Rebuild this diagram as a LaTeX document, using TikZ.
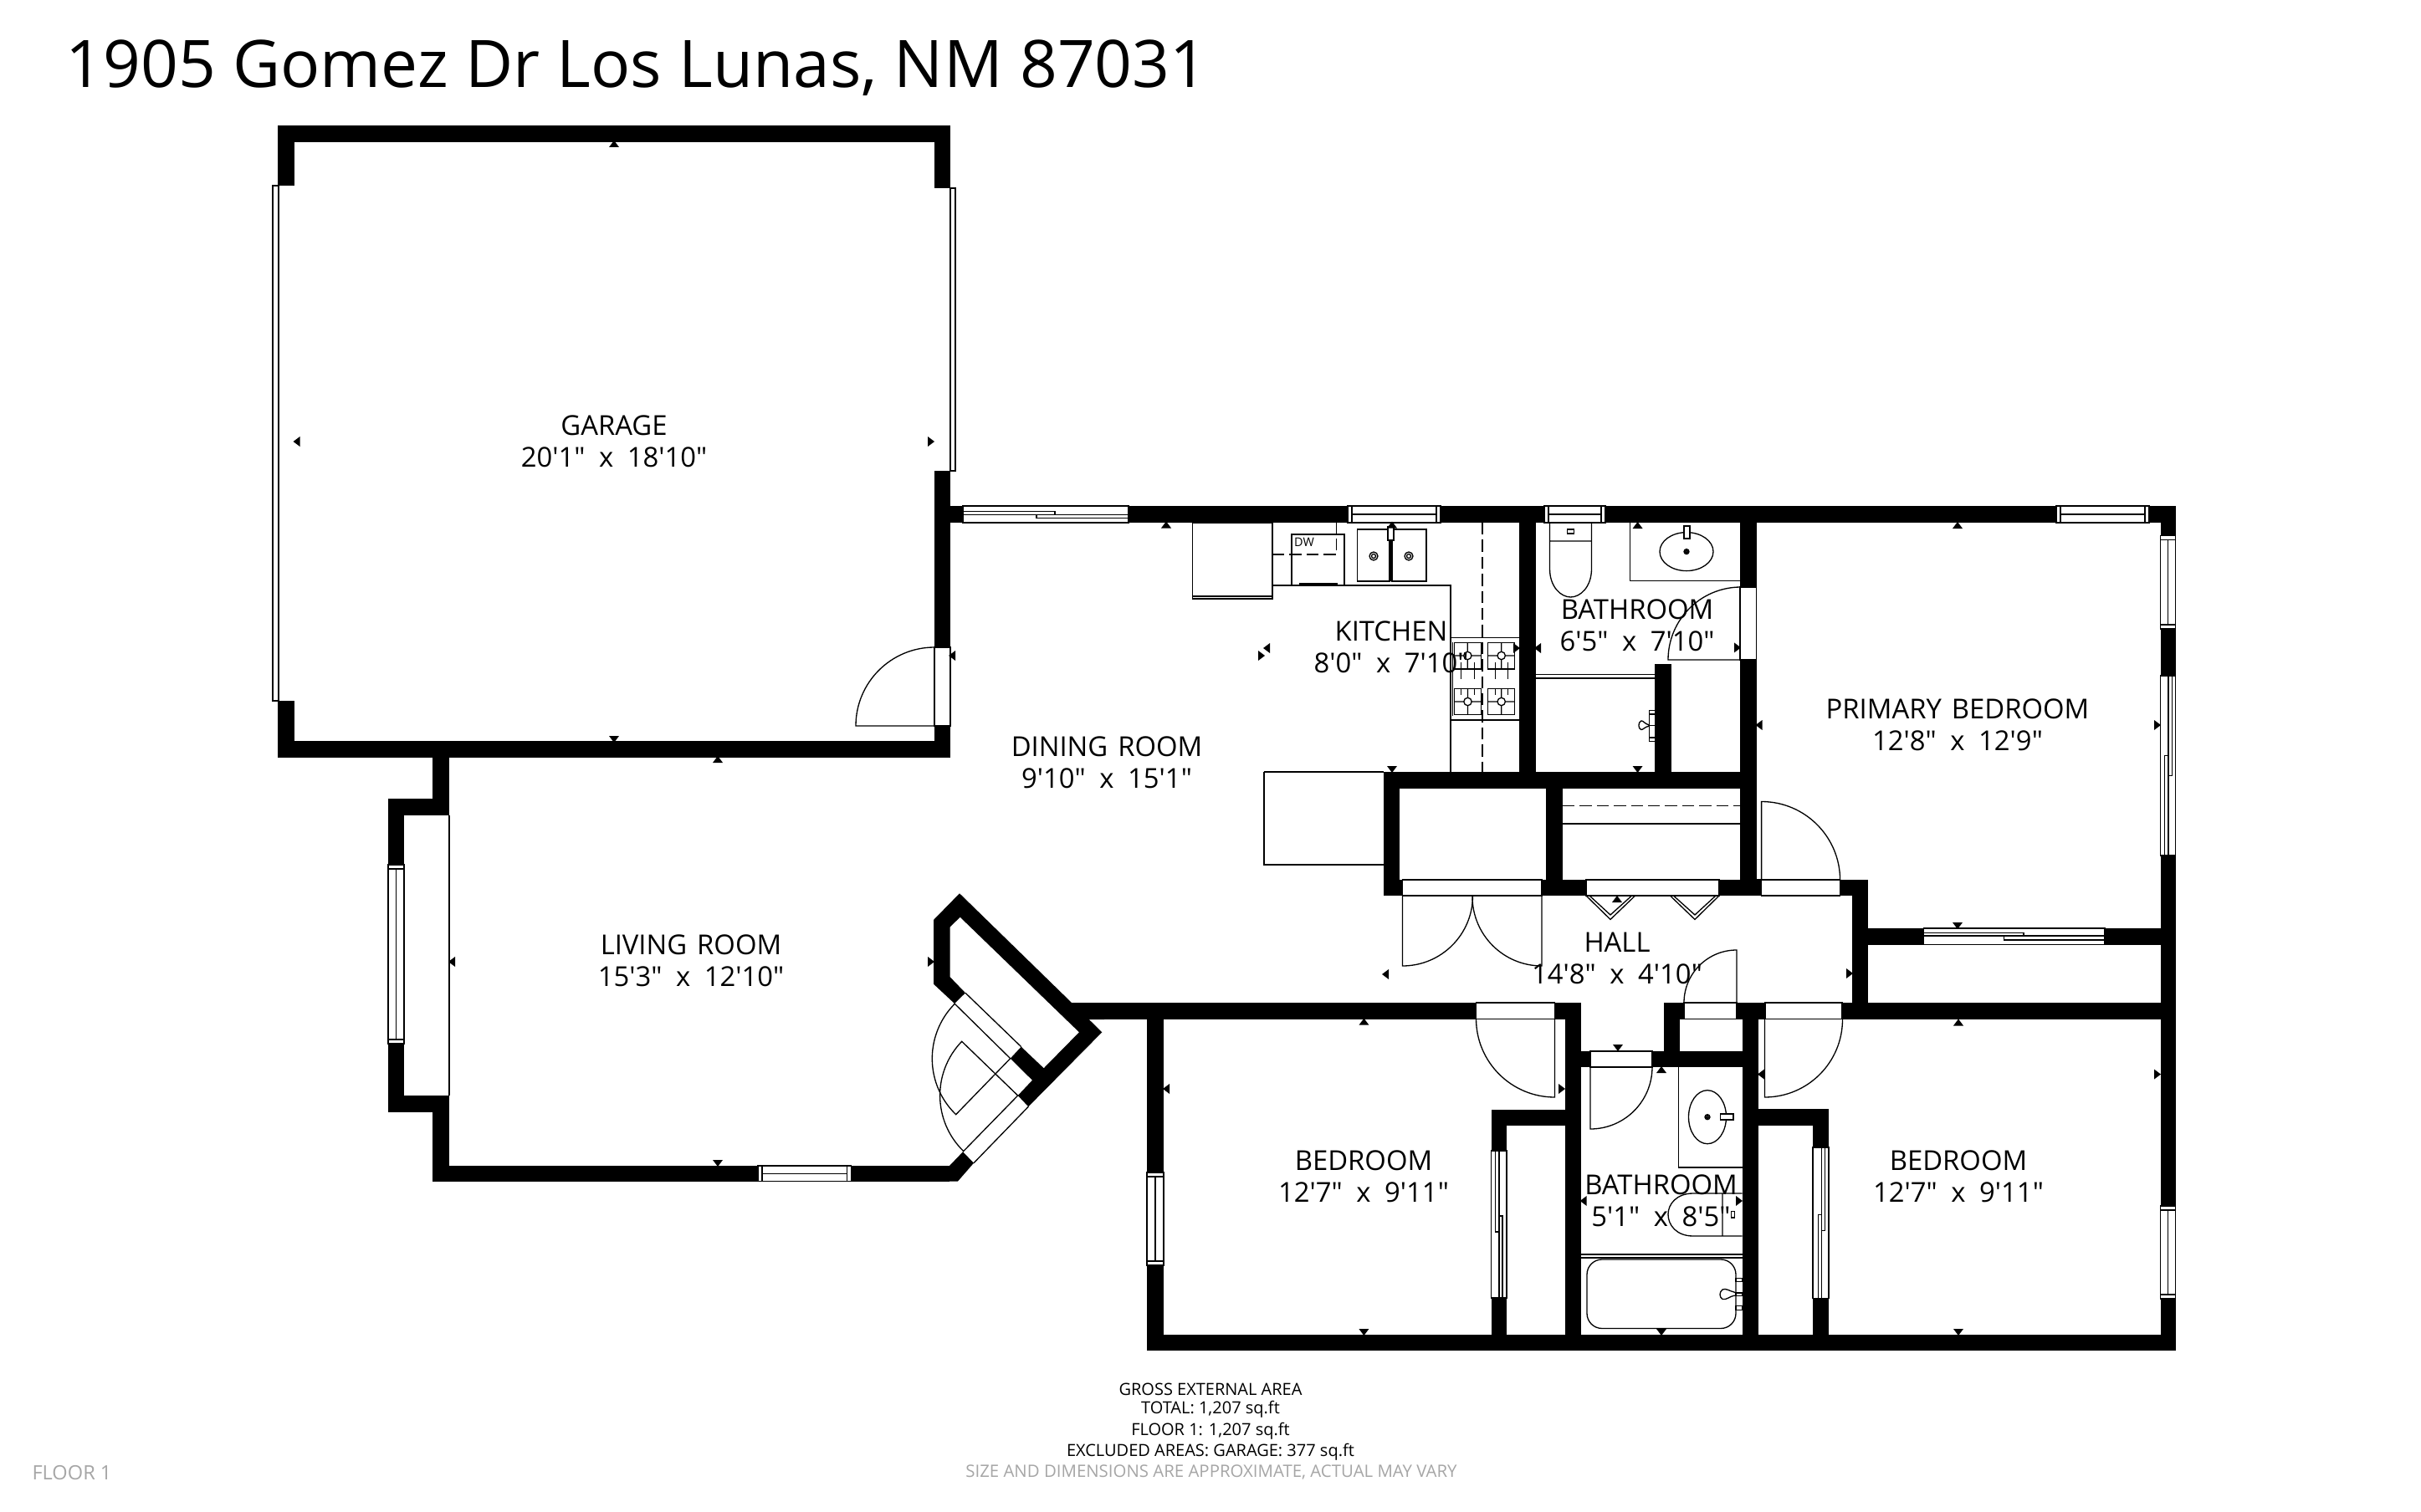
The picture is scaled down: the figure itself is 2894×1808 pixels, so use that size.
\documentclass[tikz,border=0pt]{standalone}
\usepackage{fontspec}
\newfontfamily\plainfont{Open Sans}
\newcommand{\roomfont}{\plainfont\fontsize{8.2}{9.5}\selectfont\spaceskip=3pt\relax}
\newcommand{\dimx}{\hspace{4.15pt}x\hspace{4.15pt}}
\tikzset{
	wall/.style={fill=black},
	thinline/.style={line width=.33pt},
	dashline/.style={line width=.3pt, dash pattern=on 3.6pt off 1.5pt},
	gap/.style={line width=.33pt, fill=white},
	roomlabel/.style={align=center, inner sep=0pt, font=\roomfont},
	footlabel/.style={inner sep=0pt, font=\plainfont\fontsize{5}{6}\selectfont},
	dimmark/.pic={\fill (-6,4) -- (0,-4) -- (6,4) -- cycle;}
}
\newcommand{\hwin}[4]{\draw[gap] (#1,#3) rectangle (#2,#4);
	\draw[thinline] ({#1+5},#3) -- ({#1+5},#4) ({#2-5},#3) -- ({#2-5},#4) ({#1+5},{(#3+#4)/2}) -- ({#2-5},{(#3+#4)/2});}
\newcommand{\vwin}[4]{\draw[gap] (#1,#3) rectangle (#2,#4);
	\draw[thinline] (#1,{#3+5}) -- (#2,{#3+5}) (#1,{#4-5}) -- (#2,{#4-5}) ({(#1+#2)/2},{#3+5}) -- ({(#1+#2)/2},{#4-5});}
\newcommand{\burner}[2]{\draw[thinline] (#1,#2) circle (4.7) ({#1-16},#2) -- ({#1-4.7},#2) ({#1+4.7},#2) -- ({#1+16},#2) (#1,{#2-16}) -- (#1,{#2-4.7}) (#1,{#2+4.7}) -- (#1,{#2+15.5});}
\begin{document}
\begin{tikzpicture}[x=.25pt, y=-.25pt]
	\path[use as bounding box, fill=white] (0,0) rectangle (2894,1808);

	\fill[wall] (332,150) rectangle (1136,170);
	\fill[wall] (332,150) rectangle (352,222);
	\fill[wall] (332,838) rectangle (352,906);
	\fill[wall] (1117,150) rectangle (1136,225);
	\fill[wall] (1117,563) rectangle (1136,906);
	\fill[wall] (332,886) rectangle (1136,906);
	\fill[wall] (1117,605) rectangle (1151,625);

	\fill[wall] (517,906) rectangle (537,975);
	\fill[wall] (464,955) rectangle (537,975);
	\fill[wall] (464,955) rectangle (483,1330);
	\fill[wall] (464,1310) rectangle (537,1330);
	\fill[wall] (517,1310) rectangle (537,1412.5);
	\fill[wall] (517,1394) rectangle (1135,1412.5);
	\fill[wall] (1130,1394) -- (1135,1394) -- (1151,1377.3) -- (1164,1390.7) -- (1145,1412.5) -- (1130,1412.5) -- cycle;
	\fill[wall] (1147,1068.3) -- (1116,1100) -- (1116,1176.7) -- (1141,1200) -- (1154,1187.3) -- (1135.7,1168.3) -- (1135.7,1108.3) -- (1147.7,1096.7) -- (1290,1234.3) -- (1247.7,1277.3) -- (1220.7,1251.7) -- (1207.7,1265.7) -- (1234,1291.7) -- (1216.7,1310) -- (1229.3,1323.3) -- (1317.3,1234.3) -- (1301.7,1219) -- (1320,1219) -- (1320,1199) -- (1281,1199) -- cycle;

	\fill[wall] (1151,605) rectangle (2601,625);
	\fill[wall] (2582.5,605) rectangle (2601,1615);
	\fill[wall] (1371,1596) rectangle (2601,1615);
	\fill[wall] (1371,1199) rectangle (1391,1615);
	\fill[wall] (1281,1199) rectangle (1889.6,1218.6);
	\fill[wall] (1989,1199) rectangle (2583,1218.6);
	\fill[wall] (2214,1052) rectangle (2232.6,1199);
	\fill[wall] (2199.5,1052) rectangle (2232.6,1071);
	\fill[wall] (2232.6,1110) rectangle (2583,1129.6);
	\fill[wall] (1816,625) rectangle (1836,923);
	\fill[wall] (1654,923) rectangle (2099.5,943);
	\fill[wall] (1654,923) rectangle (1672.5,1071);
	\fill[wall] (1848,943) rectangle (1868,1071);
	\fill[wall] (1654,1052) rectangle (2105.6,1071);
	\fill[wall] (2080,625) rectangle (2099.5,1071);
	\fill[wall] (1978,794) rectangle (1998,923);
	\fill[wall] (1870.7,1218) rectangle (1889.6,1596);
	\fill[wall] (1782.5,1327) rectangle (1870.7,1346);
	\fill[wall] (1782.5,1327) rectangle (1801,1596);
	\fill[wall] (1989,1218) rectangle (2008,1257);
	\fill[wall] (1889.6,1257) rectangle (2082.5,1276);
	\fill[wall] (2082.5,1218) rectangle (2101.5,1596);
	\fill[wall] (2101.5,1326) rectangle (2186,1346);
	\fill[wall] (2167,1326) rectangle (2186,1596);

	\draw[gap] (1117,774) rectangle (1136,868);
	\draw[gap] (326,222) rectangle (333,838);
	\draw[gap] (1136,225) rectangle (1142,563);
	\draw[thinline] (537,975) -- (537,1310);
	\draw[gap] (1676.5,1052) rectangle (1843,1071);
	\draw[gap] (1896,1052) rectangle (2055,1071);
	\draw[gap] (2105.6,1052) rectangle (2199.5,1071);
	\draw[gap] (2080,702) rectangle (2099.5,789);
	\draw[gap] (1764.6,1199) rectangle (1858.5,1218.6);
	\draw[gap] (2013,1199) rectangle (2076,1218.6);
	\draw[gap] (2110,1199) rectangle (2202,1218.6);
	\draw[gap] (1901,1257) rectangle (1975,1276);

	\draw[gap] (1151,605) rectangle (1349,625);
	\draw[thinline] (1151,611.4) rectangle (1261,615.4) (1239,615.4) rectangle (1349,619.3);
	\hwin{1611}{1722}{605}{625}
	\hwin{1846}{1919}{605}{625}
	\hwin{2458}{2569}{605}{625}
	\vwin{2582.5}{2600.5}{640.5}{752}
	\draw[gap] (2582.5,808) rectangle (2600.5,1023);
	\draw[thinline] (2587.4,903.4) rectangle (2592,1023) (2592,808) rectangle (2596.5,927.5);
	\draw[gap] (2299.5,1110) rectangle (2516,1129.6);
	\draw[thinline] (2299.5,1115.4) rectangle (2419,1119) (2395.4,1119) rectangle (2516,1124);
	\vwin{2582.5}{2600.5}{1442}{1553}
	\vwin{464}{483}{1034}{1248}
	\hwin{906}{1017.6}{1394}{1412.5}
	\vwin{1371}{1391}{1402}{1513}
	\draw[gap] (1782.5,1376) rectangle (1801,1552);
	\draw[thinline] (1787.5,1376) rectangle (1792,1473) (1792,1454) rectangle (1796,1552);
	\draw[gap] (2167,1372) rectangle (2186,1552.5);
	\draw[thinline] (2173.3,1452.5) rectangle (2177.7,1552.5) (2177.7,1372) rectangle (2181.6,1471.5);

	\draw[thinline] (1141,1200) -- (1207.7,1265.7) (1154,1187.3) -- (1220.7,1251.7);
	\draw[thinline] (1216.7,1310) -- (1151,1377.3) (1229.3,1323.3) -- (1164,1390.7);
	\draw[thinline] (1207.7,1265.7) -- (1142.7,1332.7) arc[start angle=134, end angle=224.6, radius=93];
	\draw[thinline] (1216.7,1310) -- (1149.7,1245.3) arc[start angle=224, end angle=134.3, radius=93];
	\draw[thinline] (1117,868) -- (1023,868) arc[start angle=180, end angle=270, radius=94];
	\draw[thinline] (1676.5,1071) -- (1676.5,1155) arc[start angle=90, end angle=0, radius=84];
	\draw[thinline] (1843,1071) -- (1843,1155) arc[start angle=90, end angle=180, radius=83];
	\draw[thinline] (2105.6,1052) -- (2105.6,958.5) arc[start angle=270, end angle=360, radius=94];
	\draw[thinline] (2080,789) -- (1994,789) arc[start angle=180, end angle=270, radius=87];
	\draw[thinline] (2076,1199) -- (2076,1136) arc[start angle=270, end angle=180, radius=63];
	\draw[thinline] (1858.5,1218.6) -- (1858.5,1312) arc[start angle=90, end angle=180, radius=94];
	\draw[thinline] (1901,1276) -- (1901,1350) arc[start angle=90, end angle=0, radius=74];
	\draw[thinline] (2109.5,1218.6) -- (2109.5,1312) arc[start angle=90, end angle=0, radius=93];
	\draw[thinline] (1858.5,1218.6) -- (1870.7,1218.6) (2101.5,1218.6) -- (2109.5,1218.6) (2099.5,1052) -- (2105.6,1052);
	\draw[thinline] (1896,1071) -- (1925,1099.5) -- (1954.6,1071) (1900,1071) -- (1925,1094) -- (1950.6,1071);
	\draw[thinline] (1996.4,1071) -- (2026,1099.5) -- (2055,1071) (2000.4,1071) -- (2026,1094) -- (2051,1071);

	\draw[thinline] (1425.5,625) rectangle (1521,716) (1425.5,713) -- (1521,713);
	\draw[thinline] (1521,700) -- (1734,700) -- (1734,923);
	\draw[thinline] (1544,700) -- (1544,639) -- (1607,639) -- (1607,700);
	\draw[thinline] (1553.6,700) -- (1553.6,698) -- (1598,698) -- (1598,700);
	\draw[dashline] (1521,663) -- (1597.5,663) -- (1597.5,625);
	\node[inner sep=0pt, font=\plainfont\fontsize{3.6}{4}\selectfont] (dwlabel) at (1559,648) {DW};
	\draw[thinline] (1622.5,633) rectangle (1661,695) (1664,633) rectangle (1705,695);
	\draw[thinline] (1642,665) circle (5) (1642,665) circle (2.5) (1684,665) circle (5) (1684,665) circle (2.5);
	\draw[gap] (1659,630) rectangle (1666,646);
	\draw[thinline] (1662.5,646) -- (1662.5,695);
	\draw[dashline] (1772,625) -- (1772,923);
	\draw[thinline] (1734,762.3) -- (1816,762.3) (1734,861) -- (1816,861) (1736.7,768) -- (1736.7,856);
	\draw[thinline] (1738.3,768.3) rectangle (1770.3,800) (1778.3,768.3) rectangle (1810.7,800);
	\draw[thinline] (1738.3,823.3) rectangle (1770.3,854.3) (1778.3,823.3) rectangle (1810.7,854.3);
	\burner{1754.3}{784}
	\burner{1794.7}{784}
	\burner{1754.5}{839}
	\burner{1794.7}{839}
	\draw[thinline, dash pattern=on 5pt off 3pt] (1746.3,791.7) -- (1746.3,831) (1762.3,791.7) -- (1762.3,831) (1787.3,791.7) -- (1787.3,831) (1802.3,791.7) -- (1802.3,831);
	\draw[thinline] (1511,923) -- (1511,1034) -- (1654,1034) (1511,923) -- (1654,923);

	\draw[thinline] (1948.5,625) -- (1948.5,694.4) -- (2080,694.4);
	\draw[thinline] (2016,659.6) ellipse [x radius=32, y radius=23] (2016,659.6) circle (3) (2016,659.6) circle (1.5);
	\draw[gap] (2013,629) rectangle (2020,644);
	\draw[thinline] (1852.5,625) -- (1852.5,680) .. controls (1852.5,702) and (1866,714) .. (1877.5,714) .. controls (1889,714) and (1902.5,702) .. (1902.5,680) -- (1902.5,625) (1852.5,647) -- (1902.5,647);
	\draw[thinline] (1873.5,633) rectangle (1881.6,638);
	\draw[thinline] (1836,806.5) -- (1978,806.5) (1836,811) -- (1978,811);
	\draw[thinline] (1978,849.3) -- (1971.7,849.3) -- (1971.7,886.7) -- (1978,886.7) (1971.7,854) -- (1978,854) (1971.7,882) -- (1978,882) (1971.7,867.5) -- (1978,867.5);
	\draw[thinline] (1971.7,867) .. controls (1966,866) and (1964,861) .. (1961.7,862) .. controls (1958,864) and (1958,871) .. (1961.7,872.5) .. controls (1964,873) and (1966,869) .. (1971.7,868);
	\draw[dashline] (1868,963.5) -- (2080,963.5);
	\draw[thinline] (1868,985) -- (2080,985);

	\draw[thinline] (2006.5,1276) -- (2006.5,1396) -- (2082.5,1396);
	\draw[thinline] (2041,1335.7) ellipse [x radius=22.5, y radius=32] (2041,1335.7) circle (3) (2041,1335.7) circle (1.5);
	\draw[gap] (2056.4,1332) rectangle (2072,1339);
	\draw[thinline] (2082.5,1427) -- (2024,1427) .. controls (2004,1427) and (1994,1440) .. (1994,1452) .. controls (1994,1465) and (2004,1478) .. (2024,1478) -- (2082.5,1478) (2059,1427) -- (2059,1478);
	\draw[thinline] (2069.5,1448.5) rectangle (2073.5,1456);
	\draw[thinline] (1889.6,1500) -- (2082.5,1500) (1889.6,1504) -- (2082.5,1504);
	\draw[thinline, rounded corners=4.5pt] (1897,1506) rectangle (2075,1588.5);
	\draw[thinline] (2075,1528.3) rectangle (2082.5,1532.3) (2075,1546) rectangle (2082.5,1549.3) (2075,1561.7) rectangle (2082.5,1566.7);
	\draw[thinline] (2072.7,1545) .. controls (2068,1544) and (2063,1540) .. (2059,1542) .. controls (2055,1545) and (2055,1551) .. (2059,1553.5) .. controls (2063,1555) and (2068,1550) .. (2072.7,1549.3) -- (2075,1549.3) (2072.7,1545) -- (2075,1546);

	\pic at (734,172) {dimmark};
	\pic[rotate=180] at (734,884) {dimmark};
	\pic[rotate=90] at (354.5,528) {dimmark};
	\pic[rotate=270] at (1113,528) {dimmark};
	\pic at (1394,627.5) {dimmark};
	\pic[rotate=180] at (1664,920) {dimmark};
	\pic[rotate=90] at (1138,784) {dimmark};
	\pic[rotate=90] at (1514,775) {dimmark};
	\pic[rotate=270] at (1508,784) {dimmark};
	\pic at (1664,627.5) {dimmark};
	\pic[rotate=270] at (1813,775) {dimmark};
	\pic at (858,908) {dimmark};
	\pic[rotate=180] at (858,1391) {dimmark};
	\pic[rotate=90] at (540,1150) {dimmark};
	\pic[rotate=270] at (1113,1150) {dimmark};
	\pic at (1957.6,628) {dimmark};
	\pic[rotate=180] at (1957.6,920) {dimmark};
	\pic[rotate=90] at (1838,775) {dimmark};
	\pic[rotate=270] at (2077,774.4) {dimmark};
	\pic at (2340,628) {dimmark};
	\pic[rotate=180] at (2340,1107) {dimmark};
	\pic[rotate=90] at (2102.5,867) {dimmark};
	\pic[rotate=270] at (2579,867) {dimmark};
	\pic at (1933,1075) {dimmark};
	\pic[rotate=180] at (1934,1253) {dimmark};
	\pic[rotate=90] at (1656,1165) {dimmark};
	\pic[rotate=270] at (2211,1164) {dimmark};
	\pic at (1630.4,1221.7) {dimmark};
	\pic[rotate=180] at (1630.4,1593) {dimmark};
	\pic[rotate=90] at (1394,1302) {dimmark};
	\pic[rotate=270] at (1867,1302) {dimmark};
	\pic at (1986,1279) {dimmark};
	\pic[rotate=180] at (1986,1593) {dimmark};
	\pic[rotate=90] at (1892.7,1436) {dimmark};
	\pic[rotate=270] at (2079,1436) {dimmark};
	\pic at (2341,1222.5) {dimmark};
	\pic[rotate=180] at (2341,1593) {dimmark};
	\pic[rotate=90] at (2105,1284.6) {dimmark};
	\pic[rotate=270] at (2579,1284.6) {dimmark};

	\node[anchor=west, inner sep=0pt, font=\plainfont\fontsize{19.6}{23}\selectfont] (title) at (78,81) {1905 Gomez Dr Los Lunas, NM 87031};
	\node[roomlabel] (garage) at (734,527.5) {GARAGE\\20'1"\dimx 18'10"};
	\node[roomlabel] (dining) at (1323,911.5) {DINING ROOM\\9'10"\dimx 15'1"};
	\node[roomlabel] (kitchen) at (1663,773.5) {KITCHEN\\8'0"\dimx 7'10"};
	\node[roomlabel] (bathone) at (1957,747.5) {BATHROOM\\6'5"\dimx 7'10"};
	\node[roomlabel] (primary) at (2340,866.5) {PRIMARY BEDROOM\\12'8"\dimx 12'9"};
	\node[roomlabel] (hall) at (1933,1146) {HALL\\14'8"\dimx 4'10"};
	\node[roomlabel] (living) at (826,1149) {LIVING ROOM\\15'3"\dimx 12'10"};
	\node[roomlabel] (bedone) at (1630,1407) {BEDROOM\\12'7"\dimx 9'11"};
	\node[roomlabel] (bathtwo) at (1985.5,1435.5) {BATHROOM\\5'1"\dimx 8'5"};
	\node[roomlabel] (bedtwo) at (2341,1406.5) {BEDROOM\\12'7"\dimx 9'11"};

	\node[footlabel] (gross) at (1447,1661) {GROSS EXTERNAL AREA};
	\node[footlabel] (total) at (1447,1685) {TOTAL: 1,207 sq.ft};
	\node[footlabel] (floorarea) at (1447,1711) {FLOOR 1: 1,207 sq.ft};
	\node[footlabel] (excluded) at (1447,1736) {EXCLUDED AREAS: GARAGE: 377 sq.ft};
	\node[footlabel, text=black!35, font=\plainfont\fontsize{5.1}{6}\selectfont] (approx) at (1448,1760) {SIZE AND DIMENSIONS ARE APPROXIMATE, ACTUAL MAY VARY};
	\node[footlabel, text=black!35, font=\plainfont\fontsize{5.9}{7}\selectfont] (floorname) at (86,1761) {FLOOR 1};
\end{tikzpicture}
\end{document}
